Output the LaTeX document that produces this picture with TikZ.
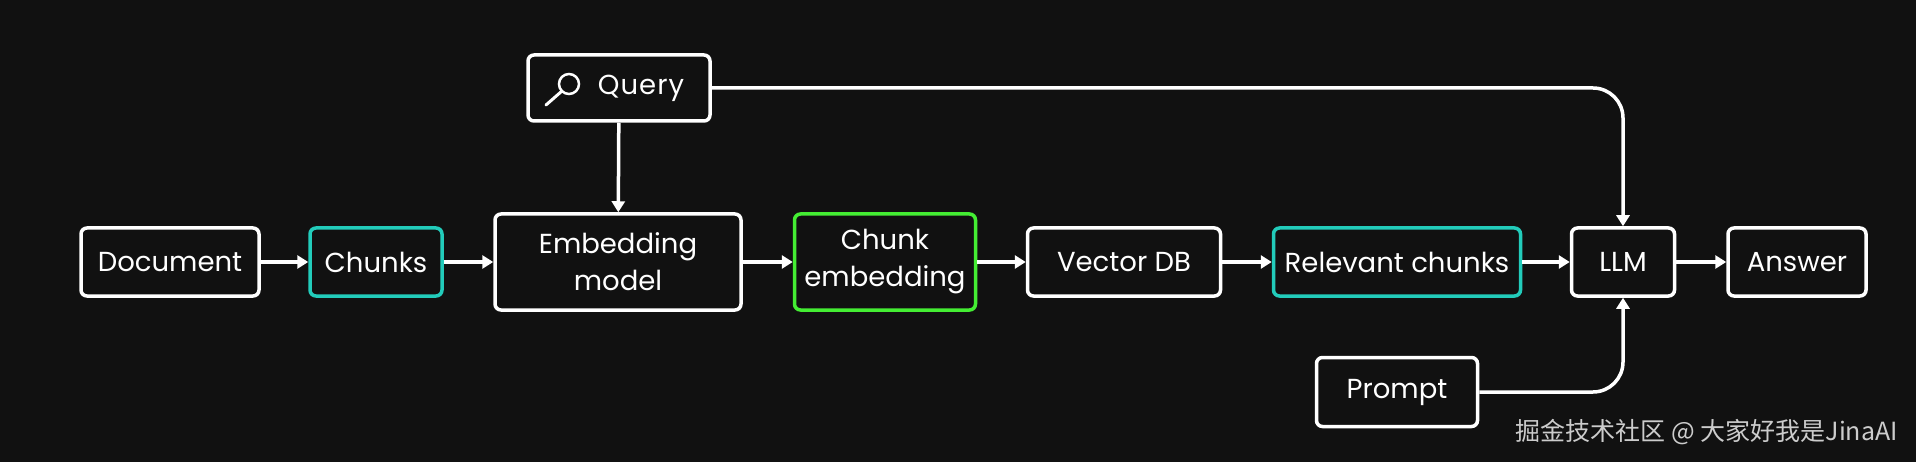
\documentclass[tikz,border=0pt]{standalone}
\usepackage{fontspec}
\setmainfont{Poppins}
\newfontfamily\cjk{Noto Sans CJK SC}
\usetikzlibrary{arrows.meta}
\definecolor{bg}{HTML}{111111}
\definecolor{cy}{HTML}{22CCBB}
\definecolor{gr}{HTML}{44EE33}
\begin{document}
\begin{tikzpicture}[x=1pt,y=-1pt,
  bx/.style={draw=white,line width=3.5pt,rounded corners=6pt,text=white,font=\fontsize{27.5}{37}\selectfont,align=center,inner sep=0pt},
  ar/.style={draw=white,line width=3.5pt,-{Triangle[length=11pt,width=13pt]}}]
\fill[bg] (0,0) rectangle (1916,462);
\useasboundingbox (0,0) rectangle (1916,462);
\node[bx,minimum width=178pt,minimum height=68pt] (doc) at (170,262) {Document};
\node[bx,draw=cy,minimum width=132pt,minimum height=68pt] (chk) at (376,262) {Chunks};
\node[bx,minimum width=246pt,minimum height=96pt] (emb) at (618,262) {Embedding\\model};
\node[bx,draw=gr,minimum width=181pt,minimum height=96pt] (ce) at (885,262) {Chunk\\embedding};
\node[bx,minimum width=193pt,minimum height=68pt] (vdb) at (1124,262) {Vector DB};
\node[bx,draw=cy,minimum width=247pt,minimum height=68pt] (rel) at (1397,262) {Relevant chunks};
\node[bx,minimum width=103pt,minimum height=68pt] (llm) at (1623,262) {LLM};
\node[bx,minimum width=138pt,minimum height=68pt] (ans) at (1797,262) {Answer};
\node[bx,minimum width=182pt,minimum height=66pt] (q) at (619,88) {\hspace*{44pt}Q\kern1pt u\kern1pt e\kern1pt r\kern1pt y};
\draw[white,line width=2.5pt] (569,84) circle (10pt);
\draw[white,line width=3pt,line cap=round] (562,91) -- (546,105);
\node[bx,minimum width=161pt,minimum height=69pt] (pr) at (1397,392) {Prompt};
\draw[ar] (doc) -- (chk);
\draw[ar] (chk) -- (emb);
\draw[ar] (emb) -- (ce);
\draw[ar] (ce) -- (vdb);
\draw[ar] (vdb) -- (rel);
\draw[ar] (rel) -- (llm);
\draw[ar] (llm) -- (ans);
\draw[ar] (q) -- (emb);
\draw[ar,rounded corners=30pt] (q.east) -- (llm.north |- q.east) -- (llm.north);
\draw[ar,rounded corners=30pt] (pr.east) -- (llm.south |- pr.east) -- (llm.south);
\node[text=white!80!black,font=\cjk\fontsize{25}{30}\selectfont,anchor=east,inner sep=0pt] (wm) at (1898,432) {掘金技术社区 @ 大家好我是JinaAI};
\end{tikzpicture}
\end{document}
